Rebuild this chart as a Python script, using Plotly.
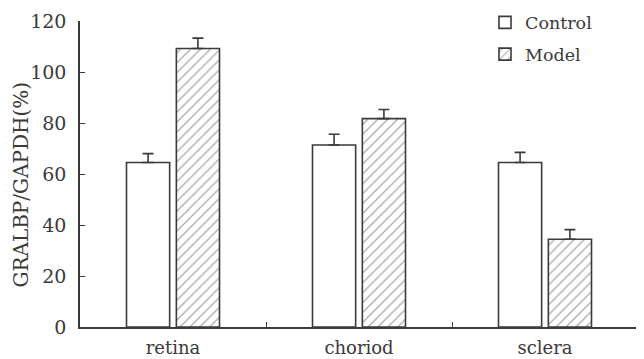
import plotly.graph_objects as go

categories = ["retina", "choriod", "sclera"]
control_values = [64.5, 71.4, 64.5]
control_errors = [3.5, 4.2, 4.0]
model_values = [109.2, 81.7, 34.4]
model_errors = [4.1, 3.6, 3.8]
y_ticks = [0, 20, 40, 60, 80, 100, 120]
y_title = "GRALBP/GAPDH(%)"

INK = "#3a3a3a"
FONT = "DejaVu Serif"

fig = go.Figure()
fig.add_trace(go.Bar(
    x=categories, y=control_values, name="Control",
    offset=-0.25, width=0.232,
    marker=dict(color="white", line=dict(color=INK, width=1.6)),
    error_y=dict(type="data", symmetric=False, array=control_errors,
                 arrayminus=[0] * len(control_errors),
                 color=INK, thickness=1.6, width=5.5),
    legendgroup="a",
))
fig.add_trace(go.Bar(
    x=categories, y=model_values, name="Model",
    offset=0.018, width=0.232,
    marker=dict(color="white", line=dict(color=INK, width=1.6),
                pattern=dict(shape="/", size=7, solidity=0.18,
                             fgcolor="#555555", bgcolor="white")),
    error_y=dict(type="data", symmetric=False, array=model_errors,
                 arrayminus=[0] * len(model_errors),
                 color=INK, thickness=1.6, width=5.5),
    legendgroup="b",
))

fig.update_layout(
    width=636, height=351,
    margin=dict(l=72, r=6, t=13, b=32, autoexpand=False),
    paper_bgcolor="white", plot_bgcolor="white",
    barmode="overlay",
    font=dict(family=FONT, size=18, color=INK),
    showlegend=True,
    legend=dict(x=0.7258, y=1.054, xanchor="left", yanchor="top",
                bgcolor="rgba(0,0,0,0)", font=dict(size=17.5, color=INK),
                traceorder="grouped", tracegroupgap=6),
    xaxis=dict(type="category", showline=True, linecolor=INK, linewidth=1.6,
               ticks="inside", tickson="boundaries", ticklen=5, tickwidth=1.4,
               tickcolor=INK, showgrid=False, zeroline=False,
               tickfont=dict(size=18), automargin=False,
               ticklabelstandoff=4),
    yaxis=dict(range=[0, 120], tickvals=y_ticks, showline=True, linecolor=INK,
               linewidth=1.6, ticks="inside", ticklen=5, tickwidth=1.4,
               tickcolor=INK, showgrid=False, zeroline=False,
               tickfont=dict(size=19), automargin=False,
               ticklabelstandoff=8),
    annotations=[dict(text=y_title, textangle=-90, xref="paper", yref="paper",
                      x=-0.1065, y=0.464, xanchor="center", yanchor="middle",
                      showarrow=False, font=dict(size=20, color=INK))],
)

fig.write_html("out.html")
